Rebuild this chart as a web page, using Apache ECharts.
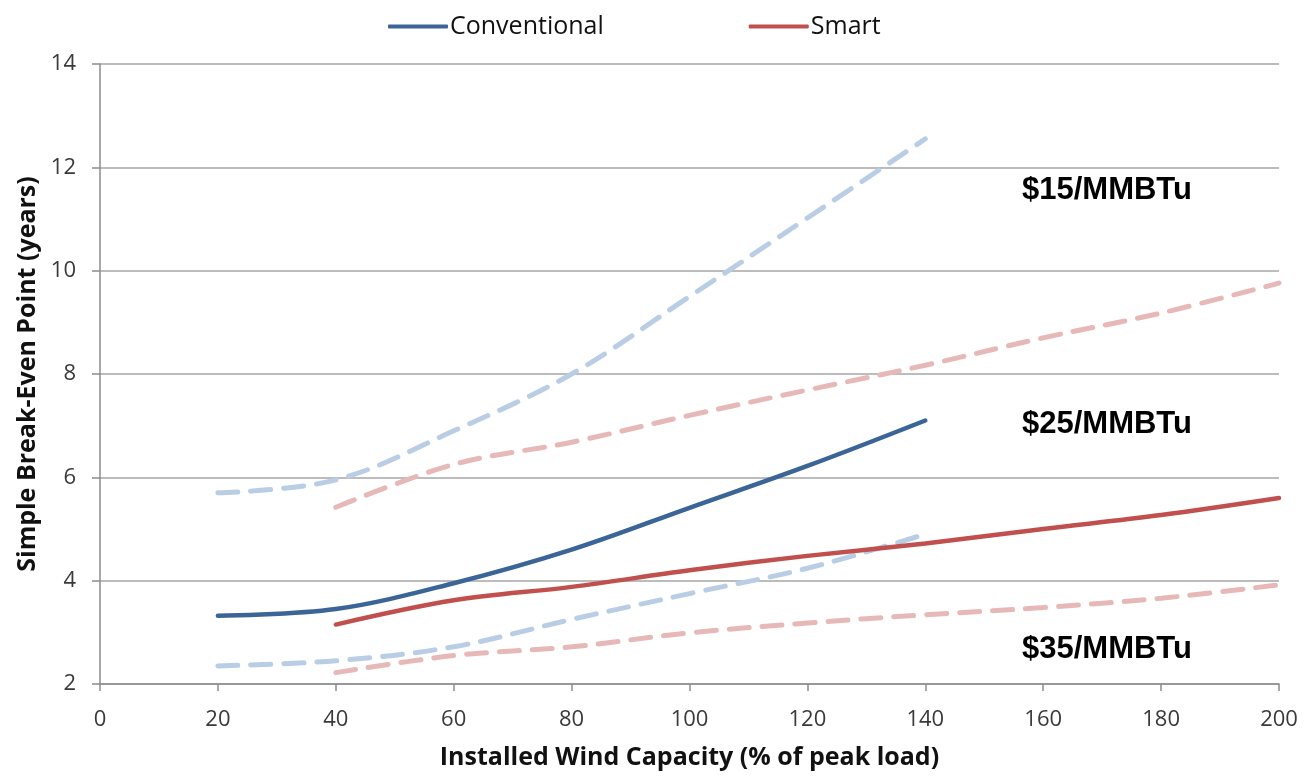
<!DOCTYPE html>
<html>
<head>
<meta charset="utf-8">
<script src="https://cdn.jsdelivr.net/npm/echarts@6/dist/echarts.min.js"></script>
<style>
  html, body { margin: 0; padding: 0; background: #fff; }
  #chart { width: 1304px; height: 778px; }
</style>
</head>
<body>
<div id="chart"></div>
<script>
// Installed wind capacity (% of peak load)
const capConventional = [20, 40, 60, 80, 100, 120, 140];
const capSmart = [40, 60, 80, 100, 120, 140, 160, 180, 200];

// Simple break-even point (years), $25/MMBTu
const conventional25 = [3.32, 3.45, 3.95, 4.6, 5.41, 6.22, 7.1];
const smart25 = [3.15, 3.62, 3.88, 4.2, 4.48, 4.72, 5.0, 5.27, 5.6];

// $15/MMBTu
const conventional15 = [5.7, 5.95, 6.9, 8.0, 9.5, 11.02, 12.55];
const smart15 = [5.42, 6.25, 6.68, 7.2, 7.69, 8.17, 8.7, 9.18, 9.76];

// $35/MMBTu
const conventional35 = [2.35, 2.45, 2.72, 3.25, 3.75, 4.24, 4.9];
const smart35 = [2.22, 2.55, 2.72, 2.99, 3.18, 3.34, 3.48, 3.66, 3.92];

const priceLabels = ['$15/MMBTu', '$25/MMBTu', '$35/MMBTu'];
const xTicks = [0, 200, 20];
const yTicks = [2, 14, 2];

const BLUE = '#3B6597';
const RED = '#C0504D';
const LIGHT_BLUE = '#B9CDE5';
const LIGHT_RED = '#E6B9B8';

const pairs = (xs, ys) => xs.map((x, i) => [x, ys[i]]);

const solid = (name, xs, ys, color) => ({
  name, type: 'line', smooth: 0.35, symbol: 'none', z: 3,
  data: pairs(xs, ys),
  lineStyle: { color, width: 4.5, cap: 'round' },
  itemStyle: { color }
});
const dashed = (name, xs, ys, color) => ({
  name, type: 'line', smooth: 0.35, symbol: 'none', z: 2,
  data: pairs(xs, ys),
  lineStyle: { color, width: 5, type: [20, 13], cap: 'round' },
  itemStyle: { color }
});

const chart = echarts.init(document.getElementById('chart'), null, { renderer: 'canvas' });

const labelFont = '"Liberation Sans", Arial, sans-serif';
const uiFont = '"Open Sans", "DejaVu Sans", sans-serif';

chart.setOption({
  animation: false,
  backgroundColor: '#fff',
  grid: { left: 100, right: 25, top: 64, bottom: 94, containLabel: false },
  legend: {
    data: ['Conventional', 'Smart'],
    top: 9,
    left: 383,
    itemWidth: 60,
    itemHeight: 4,
    itemGap: 145,
    textStyle: { fontFamily: uiFont, fontSize: 25, color: '#111', padding: [0, 0, 0, -3] },
    icon: 'roundRect'
  },
  xAxis: {
    type: 'value',
    min: xTicks[0], max: xTicks[1], interval: xTicks[2],
    name: 'Installed Wind Capacity (% of peak load)',
    nameLocation: 'middle',
    nameGap: 61,
    nameTextStyle: { fontFamily: uiFont, fontSize: 25, fontWeight: 'bold', color: '#111' },
    axisLine: { lineStyle: { color: '#8C8C8C', width: 1.5 } },
    axisTick: { show: true, length: 7, lineStyle: { color: '#8C8C8C', width: 1.5 } },
    axisLabel: { fontFamily: uiFont, fontSize: 22, color: '#3a3a3a', margin: 25 },
    splitLine: { show: false }
  },
  yAxis: {
    type: 'value',
    min: yTicks[0], max: yTicks[1], interval: yTicks[2],
    name: 'Simple Break-Even Point (years)',
    nameLocation: 'middle',
    nameGap: 59,
    nameRotate: 90,
    nameTextStyle: { fontFamily: uiFont, fontSize: 25, fontWeight: 'bold', color: '#111' },
    axisLine: { show: true, lineStyle: { color: '#8C8C8C', width: 1.5 } },
    axisTick: { show: true, length: 8, lineStyle: { color: '#8C8C8C', width: 1.5 } },
    axisLabel: { fontFamily: uiFont, fontSize: 22, color: '#3a3a3a', margin: 24 },
    splitLine: { show: true, lineStyle: { color: '#A6A6A6', width: 1.5 } }
  },
  series: [
    dashed('Conventional $15', capConventional, conventional15, LIGHT_BLUE),
    dashed('Smart $15', capSmart, smart15, LIGHT_RED),
    dashed('Conventional $35', capConventional, conventional35, LIGHT_BLUE),
    dashed('Smart $35', capSmart, smart35, LIGHT_RED),
    solid('Conventional', capConventional, conventional25, BLUE),
    solid('Smart', capSmart, smart25, RED)
  ],
  // Fuel-price annotations beside each pair of curves
  graphic: priceLabels.map((t, i) => ({
    type: 'text',
    x: 1022,
    y: [190, 424, 649][i],
    style: { text: t, font: 'bold 31px ' + labelFont, fill: '#000', verticalAlign: 'middle' }
  }))
});
</script>
</body>
</html>
